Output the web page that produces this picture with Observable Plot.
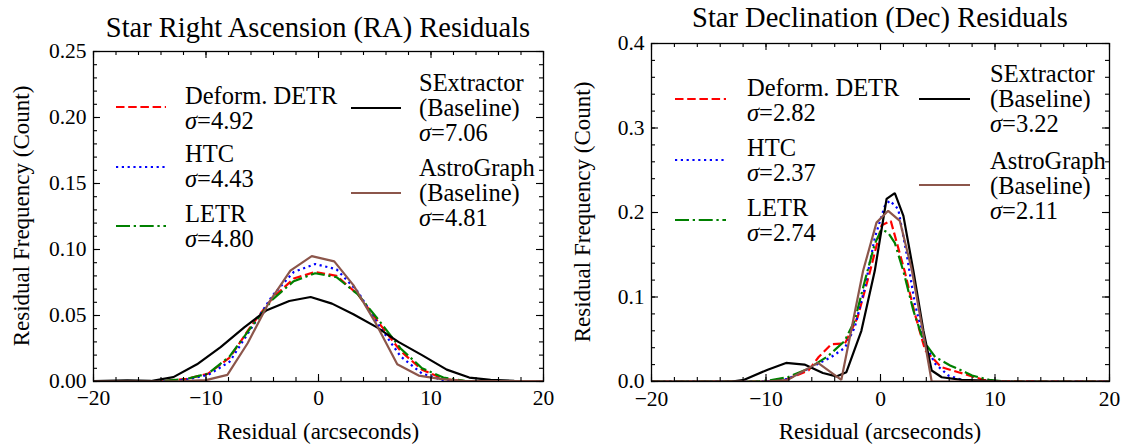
<!DOCTYPE html>
<html>
<head>
<meta charset="utf-8">
<script src="https://cdn.jsdelivr.net/npm/d3@7"></script>
<script src="https://cdn.jsdelivr.net/npm/@observablehq/plot@0.6"></script>
<style>
  html, body { margin: 0; padding: 0; background: white; }
  #wrap { position: relative; width: 1127px; height: 447px; overflow: hidden; color: black; }
  #wrap, #wrap div, #wrap svg, #wrap svg text, #wrap i { font-family: "Liberation Serif", "Times New Roman", serif !important; }
  .abs { position: absolute; white-space: nowrap; }
  .title { font-size: 28.5px; line-height: 28px; text-align: center; }
  .axlabel { font-size: 23px; line-height: 24px; text-align: center; }
  .leg { font-size: 24.5px; line-height: 25px; }
</style>
</head>
<body>
<div id="wrap"></div>
<script>
// ---------------- data ----------------
const seriesNames = ["Deform. DETR", "HTC", "LETR", "SExtractor\n(Baseline)", "AstroGraph\n(Baseline)"];
const seriesColors = ["#ff0000", "#0000ff", "#008000", "#000000", "#8c564b"];
const seriesDashes = ["8.5,3.7", "2.2,3.6", "14,3.7,2.3,3.7", null, null];
const raSigma = ["4.92", "4.43", "4.80", "7.06", "4.81"];
const decSigma = ["2.82", "2.37", "2.74", "3.22", "2.11"];

// Right Ascension residuals
const raDeformX = [-20, -15.5, -13.6, -11.7, -9.8, -7.9, -6.0, -4.1, -2.2, -0.3, 1.6, 3.5, 5.4, 7.3, 9.2, 11.1, 13.0, 14.9, 20];
const raDeformY = [0, 0, 0.0005, 0.002, 0.006, 0.018, 0.042, 0.063, 0.078, 0.083, 0.080, 0.066, 0.044, 0.023, 0.009, 0.002, 0.0003, 0, 0];
const raHtcX = [-20, -15.5, -13.6, -11.7, -9.8, -7.9, -6.0, -4.1, -2.2, -0.3, 1.6, 3.5, 5.4, 7.3, 9.2, 11.1, 13.0, 14.9, 20];
const raHtcY = [0, 0, 0.0003, 0.0015, 0.005, 0.015, 0.040, 0.065, 0.083, 0.089, 0.085, 0.068, 0.042, 0.019, 0.006, 0.001, 0, 0, 0];
const raLetrX = [-20, -15.5, -13.6, -11.7, -9.8, -7.9, -6.0, -4.1, -2.2, -0.3, 1.6, 3.5, 5.4, 7.3, 9.2, 11.1, 13.0, 14.9, 20];
const raLetrY = [0, 0, 0.0005, 0.002, 0.006, 0.019, 0.041, 0.062, 0.076, 0.082, 0.079, 0.066, 0.046, 0.025, 0.010, 0.003, 0.0005, 0, 0];
const raSexX = [-20, -17.0, -14.9, -12.9, -10.8, -8.7, -6.6, -4.6, -2.6, -0.7, 1.2, 3.1, 5.2, 7.1, 9.2, 11.4, 13.4, 15.3, 17.4, 20];
const raSexY = [0.0003, 0.0008, 0.0004, 0.0033, 0.013, 0.026, 0.041, 0.054, 0.061, 0.064, 0.059, 0.051, 0.041, 0.030, 0.020, 0.009, 0.003, 0.0013, 0.0005, 0];
const raAgX = [-20, -14.2, -12.2, -10.0, -8.1, -6.3, -4.4, -2.5, -0.6, 1.4, 3.1, 5.1, 7.0, 8.9, 10.8, 12.8, 14.7, 20];
const raAgY = [0, 0, 0.0003, 0.001, 0.005, 0.029, 0.060, 0.084, 0.095, 0.091, 0.073, 0.044, 0.013, 0.0045, 0.002, 0.0005, 0.0003, 0.0003];

// Declination residuals
const decDeformX = [-20, -10, -8.1, -6.3, -5.4, -4.3, -3.1, -2.0, -0.9, 0.1, 0.9, 2.1, 3.0, 3.9, 5.3, 6.8, 7.8, 9, 10, 20];
const decDeformY = [0, 0, 0.003, 0.013, 0.029, 0.044, 0.045, 0.076, 0.131, 0.185, 0.190, 0.131, 0.080, 0.037, 0.017, 0.011, 0.007, 0.002, 0.0005, 0];
const decHtcX = [-20, -10, -8.1, -6.0, -4.3, -3.1, -2.25, -1.37, -0.5, 0.38, 0.82, 1.55, 2.28, 3.0, 3.89, 4.77, 5.94, 7.1, 9, 20];
const decHtcY = [0, 0, 0.003, 0.017, 0.029, 0.040, 0.064, 0.111, 0.170, 0.208, 0.214, 0.204, 0.151, 0.092, 0.045, 0.021, 0.007, 0.002, 0, 0];
const decLetrX = [-20, -11, -9.85, -8.1, -6.34, -4.59, -3.13, -2.25, -1.37, -0.5, 0.09, 0.67, 1.25, 1.99, 2.87, 3.75, 4.77, 6.08, 7.4, 8.0, 9.5, 11, 20];
const decLetrY = [0, 0, 0.001, 0.005, 0.015, 0.030, 0.048, 0.072, 0.119, 0.163, 0.180, 0.176, 0.164, 0.131, 0.084, 0.048, 0.029, 0.019, 0.011, 0.007, 0.002, 0, 0];
const decSexX = [-20, -13, -11.9, -9.85, -8.25, -6.64, -5.03, -3.86, -2.98, -1.67, -0.5, 0.53, 1.25, 2.0, 2.87, 3.75, 4.47, 5.35, 7.1, 9.0, 11, 20];
const decSexY = [0, 0, 0.002, 0.014, 0.022, 0.020, 0.010, 0.006, 0.011, 0.060, 0.131, 0.216, 0.223, 0.196, 0.131, 0.060, 0.013, 0.005, 0.002, 0.001, 0, 0];
const decAgX = [-20, -10, -8.1, -5.46, -3.42, -1.52, -0.35, 0.67, 1.69, 2.72, 3.89, 4.47, 20];
const decAgY = [0, 0, 0.002, 0.022, 0.002, 0.131, 0.188, 0.202, 0.190, 0.133, 0.045, 0, 0];

const xMajor = [-20, -10, 0, 10, 20];
const xMinor = d3.range(-20, 20.001, 2);
const raYMajor = [0, 0.05, 0.10, 0.15, 0.20, 0.25];
const raYMinor = d3.range(0, 0.2501, 0.01);
const decYMajor = [0, 0.1, 0.2, 0.3, 0.4];
const decYMinor = d3.range(0, 0.4001, 0.02);

const titles = ["Star Right Ascension (RA) Residuals", "Star Declination (Dec) Residuals"];
const xLabel = "Residual (arcseconds)";
const yLabel = "Residual Frequency (Count)";

// ---------------- drawing ----------------
const wrap = document.getElementById("wrap");
const minus = s => s.replace("-", "\u2212");
const serif = "'Liberation Serif', 'Times New Roman', serif";

function makePanel(cfg) {
  const {left, width, height, mL, mR, mT, mB, yDomain, yMajor, yMinor, yFmt, xs, ys, xPad} = cfg;
  const iw = width - mL - mR, ih = height - mT - mB;
  const marks = [];
  xs.forEach((xa, k) => {
    const data = xa.map((x, i) => ({x, y: ys[k][i]}));
    marks.push(Plot.line(data, {
      x: "x", y: "y", stroke: seriesColors[k], strokeWidth: 2.2,
      strokeDasharray: seriesDashes[k] || undefined, strokeLinejoin: "miter", strokeLinecap: "butt", clip: true
    }));
  });
  const tk = 1.1;
  marks.push(
    Plot.tickX(xMajor, {x: d => d, insetTop: ih - 7, stroke: "black", strokeWidth: tk}),
    Plot.tickX(xMinor, {x: d => d, insetTop: ih - 4, stroke: "black", strokeWidth: tk}),
    Plot.tickX(xMajor, {x: d => d, insetBottom: ih - 7, stroke: "black", strokeWidth: tk}),
    Plot.tickX(xMinor, {x: d => d, insetBottom: ih - 4, stroke: "black", strokeWidth: tk}),
    Plot.tickY(yMajor, {y: d => d, insetRight: iw - 7, stroke: "black", strokeWidth: tk}),
    Plot.tickY(yMinor, {y: d => d, insetRight: iw - 4, stroke: "black", strokeWidth: tk}),
    Plot.tickY(yMajor, {y: d => d, insetLeft: iw - 7, stroke: "black", strokeWidth: tk}),
    Plot.tickY(yMinor, {y: d => d, insetLeft: iw - 4, stroke: "black", strokeWidth: tk}),
    Plot.frame({stroke: "black", strokeWidth: 1.3}),
    Plot.axisX(xMajor, {tickSize: 0, tickPadding: xPad, tickFormat: d => minus(String(d)), label: null, fontSize: 21.5, fontFamily: serif}),
    Plot.axisY(yMajor, {tickSize: 0, tickPadding: 7, tickFormat: d => yFmt(d), label: null, fontSize: 21.5, fontFamily: serif})
  );
  const svg = Plot.plot({
    width, height,
    marginLeft: mL, marginRight: mR, marginTop: mT, marginBottom: mB,
    x: {domain: [-20, 20]},
    y: {domain: yDomain},
    style: {fontFamily: serif, fontSize: "21.5px", color: "black", background: "transparent", overflow: "visible"},
    marks
  });
  const holder = document.createElement("div");
  holder.className = "abs";
  holder.style.left = left + "px";
  holder.style.top = "0px";
  holder.style.width = width + "px";
  holder.appendChild(svg);
  wrap.appendChild(holder);
  return {x0: left + mL, x1: left + width - mR, y0: mT, y1: height - mB};
}

function addText(html, cls, x, y, opts = {}) {
  const d = document.createElement("div");
  d.className = "abs " + cls;
  d.innerHTML = html;
  d.style.left = x + "px";
  d.style.top = y + "px";
  if (opts.width) d.style.width = opts.width + "px";
  if (opts.transform) d.style.transform = opts.transform;
  wrap.appendChild(d);
  return d;
}

function addHandle(x0, x1, y, k) {
  const s = document.createElementNS("http://www.w3.org/2000/svg", "svg");
  s.setAttribute("width", x1 - x0 + 4);
  s.setAttribute("height", 8);
  s.style.position = "absolute";
  s.style.left = (x0 - 2) + "px";
  s.style.top = (y - 4) + "px";
  const l = document.createElementNS("http://www.w3.org/2000/svg", "line");
  l.setAttribute("x1", 2); l.setAttribute("x2", x1 - x0 + 2);
  l.setAttribute("y1", 4); l.setAttribute("y2", 4);
  l.setAttribute("stroke", seriesColors[k]);
  l.setAttribute("stroke-width", 2.2);
  if (seriesDashes[k]) l.setAttribute("stroke-dasharray", seriesDashes[k]);
  s.appendChild(l);
  wrap.appendChild(s);
}

function legendLabel(k, sigma) {
  return seriesNames[k].split("\n").join("<br>") + "<br><i>\u03c3</i>=" + sigma;
}

const raXs = [raDeformX, raHtcX, raLetrX, raSexX, raAgX];
const raYs = [raDeformY, raHtcY, raLetrY, raSexY, raAgY];
const decXs = [decDeformX, decHtcX, decLetrX, decSexX, decAgX];
const decYs = [decDeformY, decHtcY, decLetrY, decSexY, decAgY];

const p1 = makePanel({left: 0, width: 560, height: 447, mL: 93, mR: 17, mT: 51, mB: 66, xPad: 8,
  yDomain: [0, 0.25], yMajor: raYMajor, yMinor: raYMinor, yFmt: d3.format(".2f"), xs: raXs, ys: raYs});
const p2 = makePanel({left: 560, width: 567, height: 447, mL: 91, mR: 18, mT: 43, mB: 66, xPad: 9,
  yDomain: [0, 0.4], yMajor: decYMajor, yMinor: decYMinor, yFmt: d3.format(".1f"), xs: decXs, ys: decYs});

// titles
addText(titles[0], "title", (p1.x0 + p1.x1) / 2 - 300, 13.5, {width: 600});
addText(titles[1], "title", (p2.x0 + p2.x1) / 2 - 300, 3.5, {width: 600});

// axis labels
addText(xLabel, "axlabel", (p1.x0 + p1.x1) / 2 - 200, 420, {width: 400});
addText(xLabel, "axlabel", (p2.x0 + p2.x1) / 2 - 200, 420, {width: 400});
addText(yLabel, "axlabel", 22 - 200, (p1.y0 + p1.y1) / 2 - 12, {width: 400, transform: "rotate(-90deg)"});
addText(yLabel, "axlabel", 583 - 200, (p2.y0 + p2.y1) / 2 - 12, {width: 400, transform: "rotate(-90deg)"});

// legends
const legRA = [
  {k: 0, hx: 116, lx: 185, hy: 107, top: 82.5},
  {k: 1, hx: 116, lx: 185, hy: 167, top: 140.5},
  {k: 2, hx: 116, lx: 185, hy: 226, top: 200.5},
  {k: 3, hx: 351, lx: 419, hy: 108, top: 69.5},
  {k: 4, hx: 351, lx: 419, hy: 193, top: 154.5}
];
legRA.forEach(e => { addHandle(e.hx, e.hx + 50, e.hy, e.k); addText(legendLabel(e.k, raSigma[e.k]), "leg", e.lx, e.top); });
const legDec = [
  {k: 0, hx: 675, lx: 747, hy: 99, top: 74.5},
  {k: 1, hx: 675, lx: 747, hy: 160, top: 134.5},
  {k: 2, hx: 675, lx: 747, hy: 220, top: 194.5},
  {k: 3, hx: 919, lx: 990, hy: 99, top: 60.5},
  {k: 4, hx: 919, lx: 990, hy: 185, top: 147.5}
];
legDec.forEach(e => { addHandle(e.hx, e.hx + 51, e.hy, e.k); addText(legendLabel(e.k, decSigma[e.k]), "leg", e.lx, e.top); });
</script>
</body>
</html>
